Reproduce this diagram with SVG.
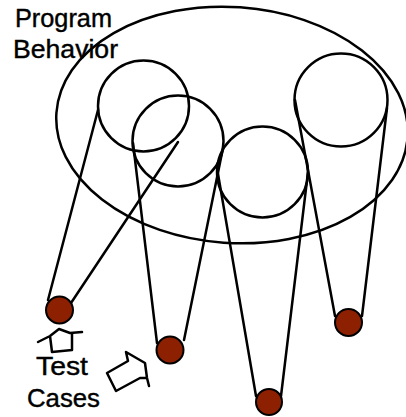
<svg xmlns="http://www.w3.org/2000/svg" width="406" height="417" viewBox="0 0 406 417">
<style>
.ln{fill:none;stroke:#000;stroke-width:2.5;stroke-linejoin:round;stroke-linecap:round}
.ball{fill:#8c2000;stroke:#000;stroke-width:2}
.lbl{font-family:"Liberation Sans",Arial,sans-serif;font-size:25px;fill:#000;stroke:#000;stroke-width:0.4}
</style>
<rect width="406" height="417" fill="#fff"/>
<g id="labels">
<text class="lbl" x="15" y="27" textLength="97" lengthAdjust="spacingAndGlyphs">Program</text>
<text class="lbl" x="13" y="58" textLength="105" lengthAdjust="spacingAndGlyphs">Behavior</text>
<text class="lbl" x="36" y="375" textLength="52" lengthAdjust="spacingAndGlyphs">Test</text>
<text class="lbl" x="27" y="407" textLength="73" lengthAdjust="spacingAndGlyphs">Cases</text>
</g>
<g id="behavior">
<ellipse class="ln" cx="232" cy="125" rx="176" ry="118" transform="rotate(4 232 125)"/>
</g>
<g id="regions">
<circle id="c1" class="ln" cx="143.5" cy="106" r="45.5"/>
<circle id="c2" class="ln" cx="178" cy="141" r="45.5"/>
<circle id="c3" class="ln" cx="262.5" cy="172" r="45.5"/>
<circle id="c4" class="ln" cx="341" cy="100" r="46.5"/>
</g>
<g id="connectors">
<path class="ln" d="M48,300 L98,110 M71,303 L178,142"/>
<path class="ln" d="M157,343 L133,143 M184,340 L223,148"/>
<path class="ln" d="M256,396 L217,168 M281,396 L308,172"/>
<path class="ln" d="M335,316 L295,100 M362,316 L387,108"/>
</g>
<g id="tests">
<circle id="t1" class="ball" cx="59.5" cy="310" r="13.5"/>
<circle id="t2" class="ball" cx="170" cy="350" r="13.5"/>
<circle id="t3" class="ball" cx="269" cy="402" r="13"/>
<circle id="t4" class="ball" cx="348.5" cy="322.5" r="13.5"/>
</g>
<g id="arrows">
<path class="ln" d="M38,342 L50,336 L59,329 L70,333 L82,332 M50,336 L52,352 L72,350 L72,333"/>
<path class="ln" d="M107,373 L128,361 L126,352 L145,363 L147,378 L149,386 M147,378 L140,378 L116,391 L107,373"/>
</g>
</svg>
